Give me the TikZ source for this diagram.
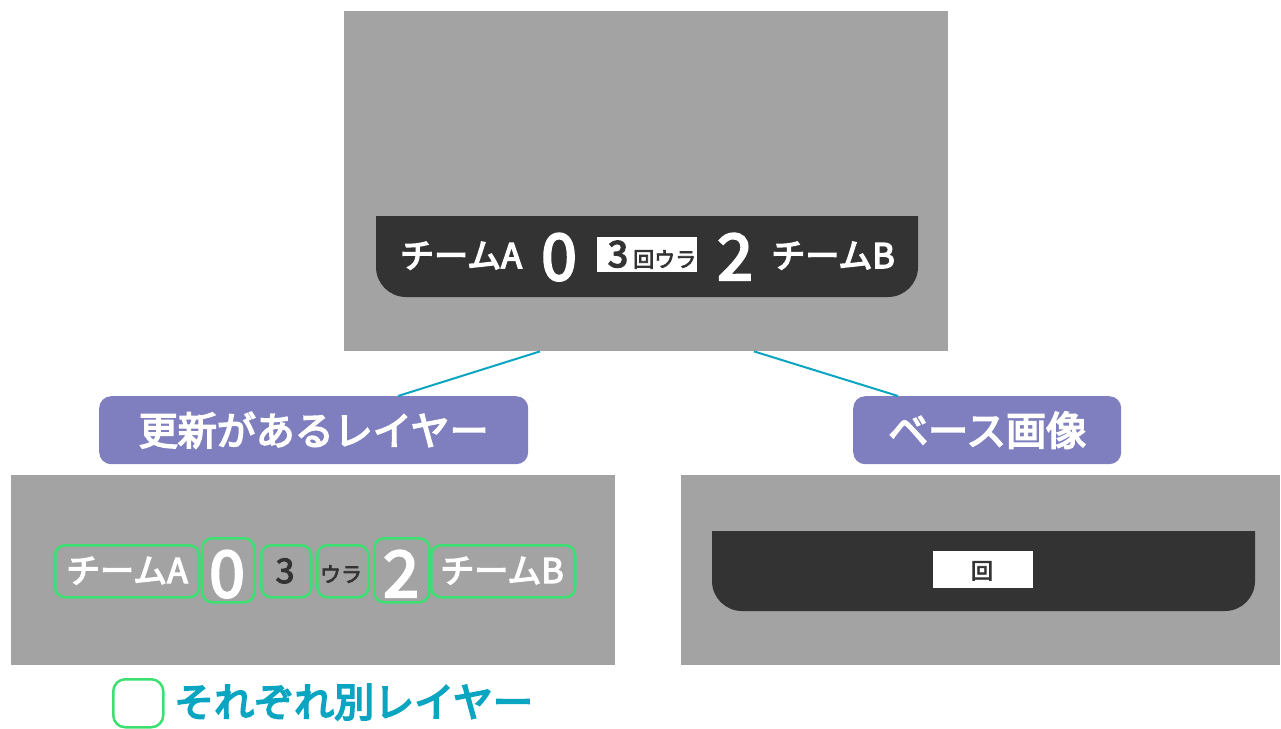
\documentclass[tikz,border=0pt]{standalone}
\usepackage{fontspec}
\newfontfamily\jp{Noto Sans CJK JP}
\newcommand\medw[2][1.6]{\special{pdf:literal direct 2 Tr #1 w}#2\special{pdf:literal direct 0 Tr}}
\definecolor{bggray}{HTML}{A3A3A3}
\definecolor{dark}{HTML}{333333}
\definecolor{teal}{HTML}{0AA5C0}
\definecolor{purp}{HTML}{7F7FBF}
\definecolor{grn}{HTML}{3CE070}
\tikzset{
  panel/.style={fill=bggray, draw=none, inner sep=0pt, anchor=north west},
  lab/.style={fill=purp, rounded corners=12pt, inner sep=0pt, anchor=north west},
  labtxt/.style={text=white, inner sep=0pt, font=\jp\fontsize{39}{39}\selectfont},
  wtxt/.style={text=white, inner sep=0pt, anchor=base, font=\jp\fontsize{34}{34}\selectfont},
  bignum/.style={text=white, inner sep=0pt, anchor=base, font=\jp\fontsize{64}{64}\selectfont},
  gbox/.style={draw=grn, line width=2.5pt, rounded corners=10pt, inner sep=0pt, anchor=north west},
  conn/.style={draw=teal, line width=2pt},
}
\begin{document}
\begin{tikzpicture}[x=1pt,y=-1pt]
\useasboundingbox (0,0) rectangle (1281,728);
% top screen
\node[panel, minimum width=604pt, minimum height=340pt] (screen) at (344,11) {};
\fill[dark] (376,216) [rounded corners=30pt]-- (376,297) -- (918,297) [sharp corners]-- (918,216) -- cycle;
\node[fill=white, inner sep=0pt, minimum width=100pt, minimum height=35pt, anchor=north west] (inn) at (597,237) {};
\node[wtxt] (ta) at (461,268) {\medw[1.5]{チームA}};
\node[bignum] (s0) at (559,280) {\medw[2.4]{0}};
\node[wtxt, text=dark, font=\jp\fontsize{36}{36}\selectfont] (i3) at (618,267) {\medw[1.6]{3}};
\node[wtxt, text=dark, anchor=base west, font=\jp\fontsize{21}{21}\selectfont] (iu) at (633,267) {\medw[0.7]{回ウラ}};
\node[bignum] (s2) at (735,280) {\medw[2.4]{2}};
\node[wtxt] (tb) at (833,268) {\medw[1.5]{チームB}};
% labels
\node[lab, minimum width=429pt, minimum height=68pt] (lab1) at (99,396) {};
\node[labtxt] at (lab1.center) {\medw[1.6]{更新があるレイヤー}};
\node[lab, minimum width=268pt, minimum height=68pt] (lab2) at (853,396) {};
\node[labtxt, font=\jp\fontsize{40}{40}\selectfont] at (lab2.center) {\medw[1.6]{ベース画像}};
\draw[conn] ([xshift=196pt]screen.south west) -- ([xshift=299pt]lab1.north west);
\draw[conn] ([xshift=410pt]screen.south west) -- ([xshift=45pt]lab2.north west);
% bottom left
\node[panel, minimum width=604pt, minimum height=190pt] (pl) at (11,475) {};
\node[gbox, minimum width=144pt, minimum height=52pt] (ga) at (54,544) {};
\node[gbox, minimum width=52pt, minimum height=64pt] (g0) at (201,537) {};
\node[gbox, minimum width=50pt, minimum height=52pt] (g3) at (260,544) {};
\node[gbox, minimum width=51pt, minimum height=52pt] (gu) at (316,544) {};
\node[gbox, minimum width=55pt, minimum height=64pt] (g2) at (373,537) {};
\node[gbox, minimum width=144pt, minimum height=52pt] (gb) at (430,544) {};
\node[wtxt] (la) at (127,583) {\medw[1.3]{チームA}};
\node[bignum] (l0) at (227,597) {\medw[2.4]{0}};
\node[wtxt, text=dark, font=\jp\fontsize{34}{34}\selectfont] (l3) at (285,583) {\medw[1.0]{3}};
\node[wtxt, text=dark, font=\jp\fontsize{21}{21}\selectfont] (lu) at (341,582) {\medw[0.7]{ウラ}};
\node[bignum] (l2) at (401,597) {\medw[2.4]{2}};
\node[wtxt] (lb) at (502,583) {\medw[1.3]{チームB}};
% bottom right
\node[panel, minimum width=599pt, minimum height=190pt] (pr) at (681,475) {};
\fill[dark] (712,531) [rounded corners=30pt]-- (712,611) -- (1255,611) [sharp corners]-- (1255,531) -- cycle;
\node[fill=white, inner sep=0pt, minimum width=100pt, minimum height=37pt, anchor=north west] (rb) at (933,551) {};
\begin{scope}
\clip (933,551) rectangle (1033,583);
\node[text=dark, inner sep=0pt, anchor=north, font=\jp\fontsize{22}{22}\selectfont] (rk) at (982,561) {\medw[0.7]{回}};
\end{scope}
% legend
\node[draw=grn, line width=2.5pt, rounded corners=12pt, minimum width=50pt, minimum height=48pt, anchor=north west, inner sep=0pt] (leg) at (112,678) {};
\node[text=teal, inner sep=0pt, anchor=west, font=\jp\fontsize{40}{40}\selectfont] (legt) at (174,702) {\medw[1.8]{それぞれ別レイヤー}};
\end{tikzpicture}
\end{document}
